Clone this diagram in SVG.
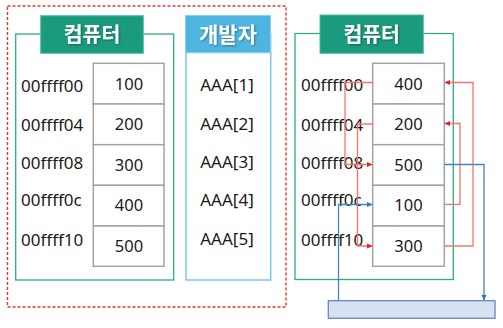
<svg xmlns="http://www.w3.org/2000/svg" width="503" height="328" viewBox="0 0 503 328">
<defs>
<style>
.frame{fill:none;stroke:#2fa98c;stroke-width:1.3}
.dev{fill:none;stroke:#7cc6e8;stroke-width:1.5}
.hdrG{fill:#1b9b7d;stroke:#4cc0a2;stroke-width:1}
.hdrB{fill:#4db5df;stroke:#86d2f0;stroke-width:1}
.htxt{font-family:"Noto Sans CJK KR",sans-serif;font-weight:bold;font-size:20.5px;fill:#ffffff;text-anchor:middle}
.cell{fill:#ffffff;stroke:#a3a3a3;stroke-width:1.5}
.addr{font-family:"Noto Sans",sans-serif;font-size:17px;fill:#1a1a1a}
.val{font-family:"Noto Sans",sans-serif;font-size:16.5px;fill:#1a1a1a;text-anchor:middle}
.aaa{font-family:"Noto Sans",sans-serif;font-size:17px;fill:#1a1a1a;text-anchor:middle}
.red{fill:none;stroke:#f4756d;stroke-width:1.3}
.blue{fill:none;stroke:#3f86c6;stroke-width:1.3}
</style>
<marker id="ar" markerWidth="6" markerHeight="6" refX="5" refY="3" orient="auto" markerUnits="userSpaceOnUse">
<path d="M0,0.5 L5.5,3 L0,5.5 Z" fill="#e8261c"/>
</marker>
<marker id="ab" markerWidth="6" markerHeight="6" refX="5" refY="3" orient="auto" markerUnits="userSpaceOnUse">
<path d="M0,0.5 L5.5,3 L0,5.5 Z" fill="#2f76b8"/>
</marker>
<filter id="sh" x="-10%" y="-10%" width="130%" height="140%">
<feDropShadow dx="1" dy="1" stdDeviation="0.8" flood-color="#000" flood-opacity="0.35"/>
</filter>
</defs>
<rect x="0" y="0" width="503" height="328" fill="#ffffff"/>

<g id="group-left">
<rect x="7.5" y="6" width="278.5" height="301" fill="none" stroke="#e8352c" stroke-width="1.4" stroke-dasharray="3,2"/>
</g>

<g id="computer-left">
<rect class="frame" x="15.7" y="34" width="158" height="246"/>
<rect class="hdrG" x="40.7" y="15.7" width="102.6" height="37.6"/>
<text class="htxt" x="92" y="42" filter="url(#sh)">컴퓨터</text>
<rect class="cell" x="93.3" y="63.3" width="70.7" height="40.7"/>
<rect class="cell" x="93.3" y="104" width="70.7" height="40.7"/>
<rect class="cell" x="93.3" y="144.7" width="70.7" height="40.7"/>
<rect class="cell" x="93.3" y="185.3" width="70.7" height="40.7"/>
<rect class="cell" x="93.3" y="226" width="70.7" height="40.3"/>
<text class="val" x="129" y="89.5">100</text>
<text class="val" x="129" y="130">200</text>
<text class="val" x="129" y="170.5">300</text>
<text class="val" x="129" y="211">400</text>
<text class="val" x="129" y="251.5">500</text>
<text class="addr" x="21" y="91.5">00ffff00</text>
<text class="addr" x="21" y="130.5">00ffff04</text>
<text class="addr" x="21" y="169">00ffff08</text>
<text class="addr" x="21" y="206">00ffff0c</text>
<text class="addr" x="21" y="245.5">00ffff10</text>
</g>

<g id="developer">
<rect class="dev" x="186" y="34" width="84.7" height="246"/>
<rect class="hdrB" x="185.5" y="15.5" width="85" height="37.3"/>
<text class="htxt" x="228" y="41.5" style="font-size:21px" filter="url(#sh)">개발자</text>
<text class="aaa" x="227" y="90.5">AAA[1]</text>
<text class="aaa" x="227" y="129.5">AAA[2]</text>
<text class="aaa" x="227" y="167.5">AAA[3]</text>
<text class="aaa" x="227" y="206">AAA[4]</text>
<text class="aaa" x="227" y="244.5">AAA[5]</text>
</g>

<g id="computer-right">
<rect class="frame" x="295" y="33.5" width="158.3" height="246"/>
<rect class="hdrG" x="320" y="15" width="103.3" height="38.3"/>
<text class="htxt" x="371.7" y="41.5" filter="url(#sh)">컴퓨터</text>
<rect class="cell" x="372.7" y="63.3" width="71.6" height="40.7"/>
<rect class="cell" x="372.7" y="104" width="71.6" height="40.7"/>
<rect class="cell" x="372.7" y="144.7" width="71.6" height="40.7"/>
<rect class="cell" x="372.7" y="185.3" width="71.6" height="40.7"/>
<rect class="cell" x="372.7" y="226" width="71.6" height="40.3"/>
<text class="val" x="408.5" y="89.5">400</text>
<text class="val" x="408.5" y="130">200</text>
<text class="val" x="408.5" y="170.5">500</text>
<text class="val" x="408.5" y="211">100</text>
<text class="val" x="408.5" y="251.5">300</text>
<text class="addr" x="301" y="91">00ffff00</text>
<text class="addr" x="301" y="130.5">00ffff04</text>
<text class="addr" x="301" y="169">00ffff08</text>
<text class="addr" x="301" y="206">00ffff0c</text>
<text class="addr" x="301" y="245.5">00ffff10</text>
</g>

<g id="buffer">
<rect x="328.3" y="300.7" width="166.7" height="17.6" fill="#d7e1f3" stroke="#6b86ba" stroke-width="1.3"/>
</g>

<g id="connectors">
<polyline class="red" points="372.7,82.5 345,82.5 345,164.5 372,164.5" marker-end="url(#ar)"/>
<polyline class="red" points="372.7,124 357.5,124 357.5,246 372,246" marker-end="url(#ar)"/>
<polyline class="red" points="444.3,204.3 460,204.3 460,123.5 445,123.5" marker-end="url(#ar)"/>
<polyline class="red" points="444.3,246 473,246 473,82.5 445,82.5" marker-end="url(#ar)"/>
<polyline class="blue" points="444.3,164.5 484,164.5 484,300" marker-end="url(#ab)"/>
<polyline class="blue" points="338.5,300.7 338.5,204.5 372,204.5" marker-end="url(#ab)"/>
</g>
</svg>
